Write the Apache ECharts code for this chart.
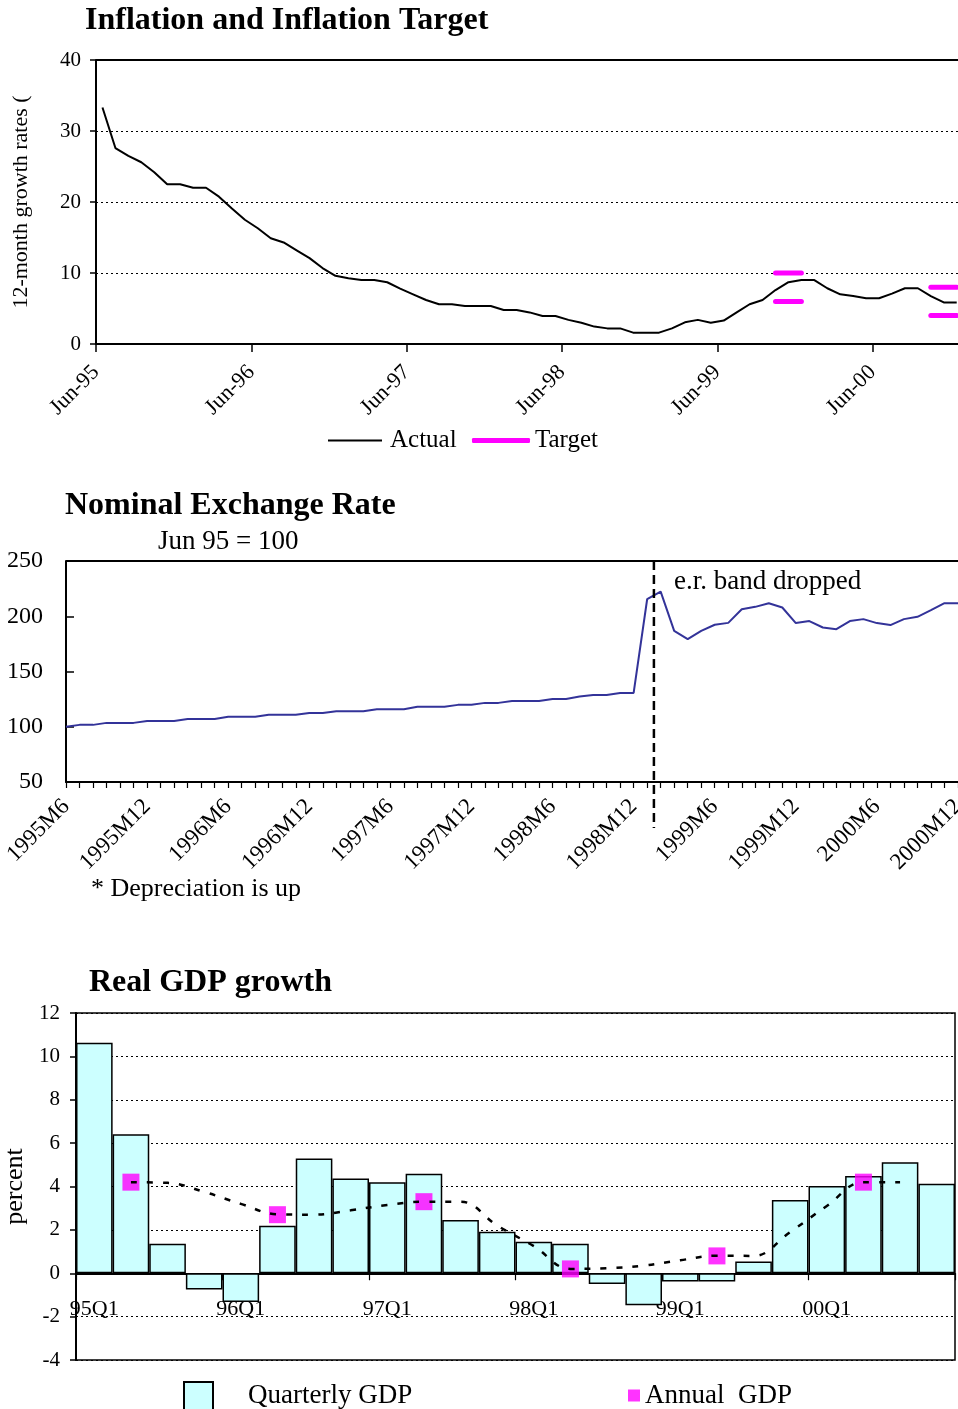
<!DOCTYPE html>
<html>
<head>
<meta charset="utf-8">
<script src="https://cdn.jsdelivr.net/npm/echarts@6/dist/echarts.min.js"></script>
<style>
  html, body { margin: 0; padding: 0; background: #fff; }
  #main { width: 958px; height: 1409px; }
</style>
</head>
<body>
<div id="main"></div>
<script>
const FONT = '"Liberation Serif", "Times New Roman", serif';

// ---- Inflation: 12-month growth rates, one value per month starting Jun-95 ----
const inflationYearLabels = ['Jun-95', 'Jun-96', 'Jun-97', 'Jun-98', 'Jun-99', 'Jun-00'];
const inflationActual = [
  33.3, 27.6, 26.5, 25.6, 24.2, 22.5, 22.5, 22.0, 22.0, 20.75, 19.1, 17.5,
  16.3, 14.9, 14.3, 13.2, 12.1, 10.7, 9.6, 9.25, 9.0, 9.0, 8.7, 7.8,
  7.0, 6.2, 5.6, 5.6, 5.35, 5.35, 5.35, 4.8, 4.8, 4.45, 3.95, 3.95,
  3.4, 3.0, 2.45, 2.2, 2.2, 1.6, 1.6, 1.6, 2.2, 3.05, 3.4, 3.0,
  3.3, 4.45, 5.6, 6.2, 7.6, 8.7, 9.0, 9.0, 7.85, 7.0, 6.75, 6.45,
  6.45, 7.1, 7.85, 7.85, 6.75, 5.85, 5.85
];
// Target ranges (month index from Jun-95, first..last month of the band)
const targetStart = [52, 64];
const targetEnd = [54, 66];
const targetLow = [6, 4];
const targetHigh = [10, 8];

// ---- Nominal exchange rate, monthly 1995M6 .. 2000M12 (Jun 95 = 100) ----
const erStartYear = 1995;
const erStartMonth = 6;
const exchangeRate = [
  100, 101.7, 101.7, 103.5, 103.5, 103.5, 105.3, 105.3, 105.3, 107, 107, 107,
  109, 109, 109, 110.8, 110.8, 110.8, 112.5, 112.5, 114, 114, 114, 115.9,
  115.9, 115.9, 118, 118, 118, 119.8, 120, 121.6, 121.6, 123.4, 123.4, 123.4,
  125.2, 125.2, 127.3, 128.8, 128.8, 130.6, 130.6, 215.4, 222.3, 186.8, 179.3, 186.8,
  192.3, 194, 206.4, 208.5, 211.8, 207.9, 193.8, 195.6, 189.8, 188.3, 195.6, 197.4,
  193.8, 192, 197.4, 199.5, 205.5, 211.8, 211.8
];
const erMonths = [];
for (let i = 0; i < exchangeRate.length; i++) {
  const m = erStartMonth - 1 + i;
  erMonths.push((erStartYear + Math.floor(m / 12)) + 'M' + (m % 12 + 1));
}
const bandDroppedAt = 43.5; // between 1999M1 and 1999M2

// ---- Real GDP growth ----
const gdpQuarters = [
  '95Q1', '95Q2', '95Q3', '95Q4', '96Q1', '96Q2', '96Q3', '96Q4',
  '97Q1', '97Q2', '97Q3', '97Q4', '98Q1', '98Q2', '98Q3', '98Q4',
  '99Q1', '99Q2', '99Q3', '99Q4', '00Q1', '00Q2', '00Q3', '00Q4'
];
const quarterlyGDP = [
  10.63, 6.41, 1.36, -0.75, -1.33, 2.19, 5.29, 4.37,
  4.2, 4.59, 2.46, 1.91, 1.45, 1.36, -0.49, -1.48,
  -0.38, -0.38, 0.54, 3.38, 4.02, 4.48, 5.12, 4.13
];
const annualGDPQuarter = ['95Q2', '96Q2', '97Q2', '98Q2', '99Q2', '00Q2'];
const annualGDP = [4.2, 2.7, 3.3, 0.2, 0.8, 4.2];
const annualTrend = [
  null, 4.2, 4.17, 3.75, 3.2, 2.72, 2.7, 2.9,
  3.15, 3.3, 3.3, 2.2, 1.25, 0.2, 0.23, 0.35,
  0.6, 0.81, 0.8, 1.9, 3.1, 4.2, 4.2, null
];

// ---- build series data ----
const actualData = inflationActual.map((v, i) => [i + 0.5, v]);
const targetSeries = [];
for (let k = 0; k < targetStart.length; k++) {
  [targetHigh[k], targetLow[k]].forEach(val => {
    targetSeries.push({
      name: 'Target', type: 'line', xAxisIndex: 0, yAxisIndex: 0,
      symbol: 'none', z: 4,
      lineStyle: { color: '#FF00FF', width: 5, cap: 'round' },
      itemStyle: { color: '#FF00FF' },
      data: [[targetStart[k] + 0.5, val], [targetEnd[k] + 0.5, val]]
    });
  });
}
const annualData = gdpQuarters.map(q => {
  const idx = annualGDPQuarter.indexOf(q);
  return idx >= 0 ? annualGDP[idx] : null;
});

const txt = (size, extra) => Object.assign({ fontFamily: FONT, fontSize: size, color: '#000' }, extra || {});
const blackLine = (w) => ({ show: true, onZero: false, lineStyle: { color: '#000', width: w } });

const chart = echarts.init(document.getElementById('main'), null, { renderer: 'canvas' });

const option = {
  animation: false,
  backgroundColor: '#fff',
  textStyle: { fontFamily: FONT, color: '#000' },
  title: [
    { text: 'Inflation and Inflation Target', left: 85, top: 5, padding: 0,
      textStyle: txt(32, { fontWeight: 'bold' }) },
    { text: 'Nominal Exchange Rate', left: 65, top: 490, padding: 0,
      textStyle: txt(32, { fontWeight: 'bold' }) },
    { text: 'Jun 95 = 100', left: 158, top: 528, padding: 0,
      textStyle: txt(27, { fontWeight: 'normal' }) },
    { text: 'Real GDP growth', left: 89, top: 967, padding: 0,
      textStyle: txt(32, { fontWeight: 'bold' }) }
  ],
  legend: [
    { data: [{ name: 'Actual', icon: 'rect' }], left: 328, top: 428, padding: 0,
      itemWidth: 54, itemHeight: 2,
      textStyle: txt(25, { padding: [0, 0, 0, 3] }), selectedMode: false },
    { data: [{ name: 'Target', icon: 'roundRect' }], left: 472, top: 428, padding: 0,
      itemWidth: 58, itemHeight: 5,
      textStyle: txt(25), selectedMode: false },
    { data: [{ name: 'Quarterly GDP', icon: 'rect' }], left: 183, top: 1381, padding: 0,
      itemWidth: 29, itemHeight: 28,
      textStyle: txt(27, { padding: [0, 0, 0, 30] }), selectedMode: false },
    { data: [{ name: 'Annual GDP', icon: 'rect' }], left: 628, top: 1382, padding: 0,
      itemWidth: 12, itemHeight: 12,
      formatter: n => n.replace(' ', '  '),
      textStyle: txt(27), selectedMode: false }
  ],
  grid: [
    { left: 96, right: 0, top: 60, height: 284, outerBoundsMode: 'none', containLabel: false },
    { left: 66, right: 0, top: 561, height: 221, outerBoundsMode: 'none', containLabel: false },
    { left: 76, right: 3, top: 1013, height: 347, outerBoundsMode: 'none', containLabel: false,
      show: true, borderColor: '#000', borderWidth: 1.5, backgroundColor: 'transparent' }
  ],
  xAxis: [
    { gridIndex: 0, type: 'value', min: 0, max: 66.6, interval: 12,
      axisLine: blackLine(2),
      axisTick: { show: true, length: 8, lineStyle: { color: '#000', width: 1.5 } },
      splitLine: { show: false },
      axisLabel: Object.assign(txt(22), { rotate: 45, margin: 25, showMaxLabel: false,
        formatter: v => inflationYearLabels[v / 12] || '' }) },
    { gridIndex: 1, type: 'category', data: erMonths, boundaryGap: false,
      axisLine: blackLine(2),
      axisTick: { show: true, interval: 0, length: 6, lineStyle: { color: '#000', width: 1.2 } },
      splitLine: { show: false },
      axisLabel: Object.assign(txt(23), { rotate: 45, interval: 5, margin: 21 }) },
    { gridIndex: 2, type: 'category', data: gdpQuarters, boundaryGap: true,
      axisLine: { show: true, onZero: true, lineStyle: { color: '#000', width: 2 } },
      axisTick: { show: true, interval: 3, length: 7, lineStyle: { color: '#000', width: 1.2 } },
      splitLine: { show: false },
      axisLabel: { show: false } },
    // quarter labels, set just below the zero line
    { gridIndex: 2, type: 'category', data: gdpQuarters, boundaryGap: true,
      position: 'bottom', offset: -80,
      axisLine: { show: false }, axisTick: { show: false }, splitLine: { show: false },
      axisLabel: Object.assign(txt(22), { interval: 3, margin: 18 }) }
  ],
  yAxis: [
    { gridIndex: 0, type: 'value', min: 0, max: 40, interval: 10,
      name: '12-month growth rates (', nameLocation: 'middle', nameGap: 64,
      nameTextStyle: txt(22),
      axisLine: blackLine(2),
      axisTick: { show: true, length: 6, lineStyle: { color: '#000', width: 1.5 } },
      splitLine: { show: true, lineStyle: { color: '#000', width: 1.2, type: [2, 3] } },
      axisLabel: Object.assign(txt(21), { margin: 15 }) },
    { gridIndex: 1, type: 'value', min: 50, max: 250, interval: 50,
      axisLine: blackLine(2),
      axisTick: { show: true, inside: true, length: 8, lineStyle: { color: '#000', width: 1.5 } },
      splitLine: { show: false },
      axisLabel: Object.assign(txt(24), { margin: 23 }) },
    { gridIndex: 2, type: 'value', min: -4, max: 12, interval: 2,
      name: 'percent', nameLocation: 'middle', nameGap: 44,
      nameTextStyle: txt(26),
      axisLine: blackLine(2),
      axisTick: { show: true, length: 6, lineStyle: { color: '#000', width: 1.5 } },
      splitLine: { show: true, lineStyle: { color: '#000', width: 1.2, type: [2, 3] } },
      axisLabel: Object.assign(txt(21), { margin: 16 }) }
  ],
  series: [
    { name: 'Actual', type: 'line', xAxisIndex: 0, yAxisIndex: 0,
      symbol: 'none', data: actualData, z: 3,
      lineStyle: { color: '#000', width: 2 }, itemStyle: { color: '#000' },
      markLine: { silent: true, symbol: 'none', label: { show: false },
        lineStyle: { color: '#000', width: 2, type: 'solid' }, data: [{ yAxis: 40 }] } },
    ...targetSeries,
    { name: 'Exchange rate', type: 'line', xAxisIndex: 1, yAxisIndex: 1,
      symbol: 'none', data: exchangeRate,
      lineStyle: { color: '#333399', width: 2 }, itemStyle: { color: '#333399' },
      markLine: { silent: true, symbol: 'none', label: { show: false },
        lineStyle: { color: '#000', width: 2, type: 'solid' }, data: [{ yAxis: 250 }] } },
    { name: 'Quarterly GDP', type: 'bar', xAxisIndex: 2, yAxisIndex: 2,
      data: quarterlyGDP, barCategoryGap: '0%', z: 2,
      itemStyle: { color: '#CCFFFF', borderColor: '#000', borderWidth: 1.5 } },
    { name: 'Annual GDP', type: 'scatter', xAxisIndex: 2, yAxisIndex: 2,
      data: annualData, symbol: 'rect', symbolSize: 17, z: 4,
      itemStyle: { color: '#FF00FF' } },
    { name: 'Annual trend', type: 'line', xAxisIndex: 2, yAxisIndex: 2,
      data: annualTrend, smooth: 0.4, symbol: 'none', z: 5, connectNulls: false,
      lineStyle: { color: '#000', width: 2.5, type: [6, 10] } }
  ]
};
chart.setOption(option);

// vertical marker where the exchange-rate band was dropped, and the notes
const xA = chart.convertToPixel({ xAxisIndex: 1 }, Math.floor(bandDroppedAt));
const xB = chart.convertToPixel({ xAxisIndex: 1 }, Math.floor(bandDroppedAt) + 1);
const xBand = xA + (xB - xA) * (bandDroppedAt - Math.floor(bandDroppedAt));
const yTop = chart.convertToPixel({ yAxisIndex: 1 }, 250);
const yBottom = chart.convertToPixel({ yAxisIndex: 1 }, 50);
chart.setOption({
  graphic: [
    { type: 'line', silent: true, z: 10,
      shape: { x1: xBand, y1: yTop, x2: xBand, y2: yBottom + 46 },
      style: { stroke: '#000', lineWidth: 2.5, lineDash: [9, 5] } },
    { type: 'text', silent: true, x: xBand + 20, y: yTop + 7,
      style: { text: 'e.r. band dropped', font: '27px ' + FONT, fill: '#000' } },
    { type: 'text', silent: true, left: 91, top: 876,
      style: { text: '* Depreciation is up', font: '26px ' + FONT, fill: '#000' } }
  ]
});
</script>
</body>
</html>
